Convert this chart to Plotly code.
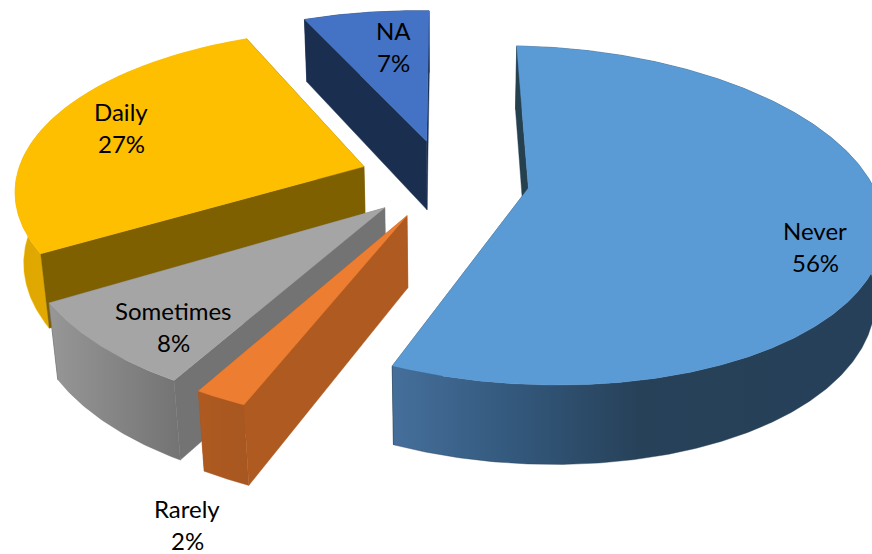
import math
import numpy as np
import plotly.graph_objects as go

# Data
categories = ["Never", "Rarely", "Sometimes", "Daily", "NA"]
values = [56, 2, 8, 27, 7]

# Styles
top_colors = ["#5B9BD5", "#ED7D31", "#A5A5A5", "#FDBF00", "#4472C4"]
side_colors = ["#25404F", "#AE5A21", "#737373", "#7F6000", "#1A2E50"]
rim_scales = [
    [[0, "#456F9B"], [0.25, "#33587C"], [0.5, "#274159"], [1, "#254058"]],
    [[0, "#AE5A21"], [1, "#A85720"]],
    [[0, "#979797"], [1, "#737373"]],
    [[0, "#DDA600"], [1, "#FDBF00"]],
    [[0, "#1A2E50"], [1, "#1A2E50"]],
]
label_xy = [(815, 230), (187, 508), (173, 310), (121, 111), (393, 30)]
LINE_GAP = 32
FONT = "Lato"
FONT_SIZE = 24

# Projection of the exploded 3D pie
START_DEG = 0.0
CX, CY, F = 444.5, 179.0, 346.0
TILT = math.radians(28)
DIST = 5.5
H = 0.235
EXPLODE = 0.245
SHEAR = 0.018


def project(x, c, z):
    x, c = np.asarray(x, float), np.asarray(c, float)
    ys = c * math.sin(TILT) - z * math.cos(TILT) + SHEAR * x
    dz = c * math.cos(TILT) + z * math.sin(TILT)
    s = 1.0 / (1.0 - dz / DIST)
    return CX + F * x * s, CY + F * ys * s


fig = go.Figure()


def poly(u, v, color=None, scale=None):
    kw = dict(x=list(u), y=list(v), mode="lines", fill="toself",
              hoverinfo="skip", showlegend=False, line=dict(width=0.4))
    if scale:
        kw["fillgradient"] = dict(type="horizontal", colorscale=scale)
        kw["line"]["color"] = scale[-1][1]
    else:
        kw["fillcolor"] = color
        kw["line"]["color"] = color
    fig.add_trace(go.Scatter(**kw))


total = sum(values)
slices = []
a0 = START_DEG
for i, val in enumerate(values):
    a1 = a0 + 360.0 * val / total
    slices.append((i, a0, a1))
    a0 = a1

for i, a0, a1 in [slices[4], slices[3], slices[2], slices[1], slices[0]]:
    mid = math.radians((a0 + a1) / 2)
    ax, ac = EXPLODE * math.sin(mid), -EXPLODE * math.cos(mid)
    th = np.radians(np.linspace(a0, a1, max(8, int((a1 - a0) * 2))))
    rx, rc = ax + np.sin(th), ac - np.cos(th)
    tu, tv = project(rx, rc, 0)
    bu, bv = project(rx, rc, -H)
    apu, apv = project(ax, ac, 0)
    abu, abv = project(ax, ac, -H)
    # far radial wall, rim wall, near radial wall, top face
    poly([apu, tu[-1], bu[-1], abu, apu], [apv, tv[-1], bv[-1], abv, apv], side_colors[i])
    poly(list(tu) + list(bu[::-1]) + [tu[0]], list(tv) + list(bv[::-1]) + [tv[0]], scale=rim_scales[i])
    poly([apu, tu[0], bu[0], abu, apu], [apv, tv[0], bv[0], abv, apv], side_colors[i])
    poly([apu] + list(tu) + [apu], [apv] + list(tv) + [apv], top_colors[i])

annotations = []
for name, val, (lx, ly) in zip(categories, values, label_xy):
    for text, yy in ((name, ly), (f"{val}%", ly + LINE_GAP)):
        annotations.append(dict(x=lx, y=yy, xref="x", yref="y", text=text, showarrow=False,
                                font=dict(family=FONT, size=FONT_SIZE, color="#000000"),
                                xanchor="center", yanchor="middle"))

fig.update_layout(
    width=872, height=554, margin=dict(l=0, r=0, t=0, b=0),
    paper_bgcolor="white", plot_bgcolor="white", annotations=annotations,
    xaxis=dict(range=[0, 872], visible=False, fixedrange=True),
    yaxis=dict(range=[554, 0], visible=False, fixedrange=True),
)
fig.write_html("out.html", config={"displayModeBar": False},
               post_script="document.body.style.margin='0';document.documentElement.style.overflow='hidden';")
